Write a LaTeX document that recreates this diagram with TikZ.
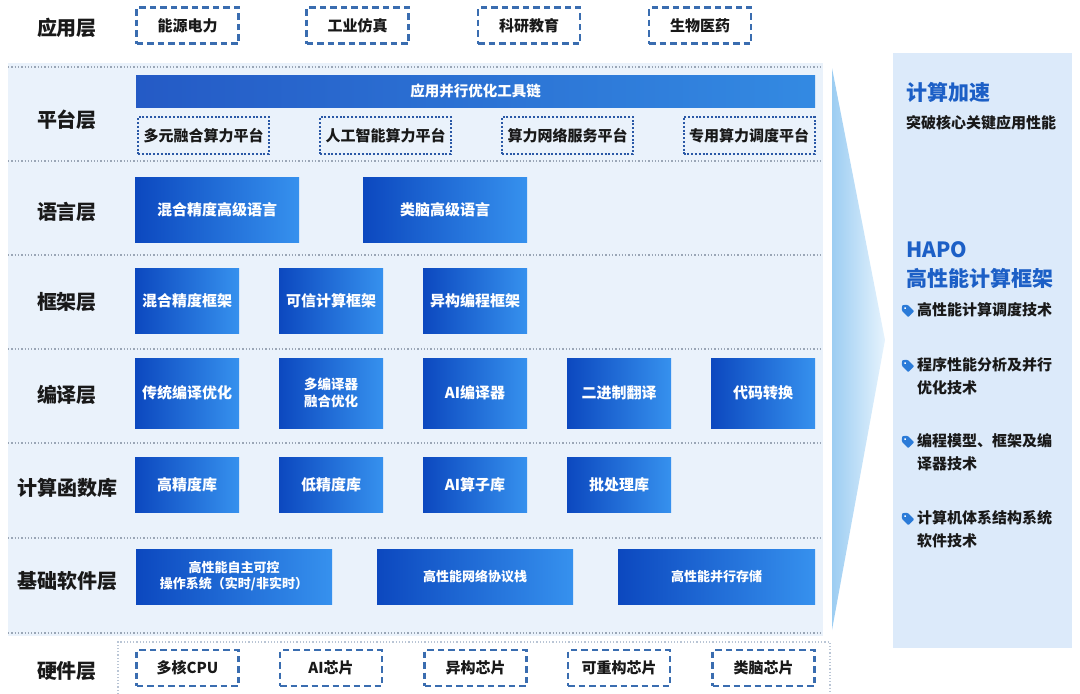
\documentclass[tikz,border=0pt]{standalone}
\usepackage{fontspec}
\setmainfont{Noto Sans CJK SC}
\definecolor{panelbg}{HTML}{EAF2FB}
\definecolor{rightbg}{HTML}{DCEAFA}
\definecolor{boxL}{HTML}{0C48BF}
\definecolor{boxR}{HTML}{3691EE}
\definecolor{sepC}{HTML}{9AA6B6}
\definecolor{dashC}{HTML}{3A6DB0}
\definecolor{dotC}{HTML}{2A58A6}
\definecolor{hwC}{HTML}{B9C5D5}
\definecolor{titleC}{HTML}{1C5FC6}
\definecolor{tagC}{HTML}{2B7BD8}
\definecolor{wedgeL}{HTML}{9CCDF2}
\definecolor{wedgeR}{HTML}{E6F3FD}
\begin{document}
\begin{tikzpicture}[x=1pt,y=-1pt,
  layerlbl/.style={font=\fontsize{20}{24}\selectfont\bfseries, text=black!90, inner sep=0pt},
  bluebox/.style={left color=boxL, right color=boxR, draw=none, text=white,
    font=\fontsize{15}{19}\selectfont\bfseries, inner sep=0pt, align=center},
  smallbox/.style={bluebox, font=\fontsize{13}{16}\selectfont\bfseries},
  dashbox/.style={draw=dashC, fill=white, line width=2.2pt, dash pattern=on 6.5pt off 4pt,
    font=\fontsize{15}{19}\selectfont\bfseries, text=black!90, inner sep=0pt,
    minimum width=102pt, minimum height=36pt},
  platbox/.style={draw=dotC, line width=2pt, dash pattern=on 2pt off 1.8pt,
    font=\fontsize{15}{19}\selectfont\bfseries, text=black!90, inner sep=0pt,
    minimum width=131pt, minimum height=37pt},
  sepline/.style={draw=sepC, line width=1.3pt, dash pattern=on 1.3pt off 2pt},
  ttl/.style={font=\fontsize{21}{25}\selectfont\bfseries, text=titleC, inner sep=0pt, anchor=west},
  subt/.style={font=\fontsize{15}{19}\selectfont\bfseries, text=black!90, inner sep=0pt, anchor=west},
  bul/.style={font=\fontsize{15}{23}\selectfont\bfseries, text=black!90, inner sep=0pt,
    anchor=north west, align=left},
  tag/.pic={\begin{scope}[rotate=-45]
            \fill[tagC, rounded corners=1pt] (-7,0) -- (-3,-4.2) -- (6,-4.2) -- (6,4.2) -- (-3,4.2) -- cycle;
            \fill[white] (-2.6,0) circle (1.1pt);
            \end{scope}}
]
\useasboundingbox (0,0) rectangle (1080,694);

% ---------- main panel background ----------
\fill[panelbg] (8,63) rectangle (823,636);
\foreach \yy in {67,161,255,349,443,538,633}
  \draw[sepline] (8,\yy) -- (822,\yy);

% ---------- wedge ----------
\shade[left color=wedgeL, right color=wedgeR] (832,68) -- (885,340) -- (832,630) -- cycle;

% ---------- right panel ----------
\fill[rightbg] (893,53) rectangle (1072,648);

% ---------- hardware outer dotted frame ----------
\draw[draw=hwC, line width=1.2pt, dash pattern=on 1.2pt off 2pt] (118,694) -- (118,642) -- (830,642) -- (830,694);

% ---------- layer labels ----------
\node[layerlbl] (lApp)  at (67,28)  {应用层};
\node[layerlbl] (lPlat) at (67,120) {平台层};
\node[layerlbl] (lLang) at (67,212) {语言层};
\node[layerlbl] (lFw)   at (67,302) {框架层};
\node[layerlbl] (lComp) at (67,395) {编译层};
\node[layerlbl] (lLib)  at (67,488) {计算函数库};
\node[layerlbl] (lBase) at (67,581) {基础软件层};
\node[layerlbl] (lHw)   at (67,671) {硬件层};

% ---------- application layer ----------
\node[dashbox] (a1) at (187.5,25.5) {能源电力};
\node[dashbox] (a2) at (357.5,25.5) {工业仿真};
\node[dashbox] (a3) at (529,25.5)   {科研教育};
\node[dashbox] (a4) at (700,25.5)   {生物医药};

% ---------- platform layer ----------
\node[bluebox, minimum width=679pt, minimum height=32pt, font=\fontsize{14.5}{18}\selectfont\bfseries,
      left color=boxL!90!white, right color=boxR!95!black] (bar) at (475.5,91) {应用并行优化工具链};
\node[platbox] (p1) at (203.5,135.5) {多元融合算力平台};
\node[platbox] (p2) at (385.5,135.5) {人工智能算力平台};
\node[platbox] (p3) at (567.5,135.5) {算力网络服务平台};
\node[platbox] (p4) at (749,135.5)   {专用算力调度平台};

% ---------- language layer ----------
\node[bluebox, minimum width=164pt, minimum height=65pt] (g1) at (217,209.5) {混合精度高级语言};
\node[bluebox, minimum width=164pt, minimum height=65pt] (g2) at (445,209.5) {类脑高级语言};

% ---------- framework layer ----------
\node[bluebox, minimum width=104pt, minimum height=65pt] (f1) at (187,300.5) {混合精度框架};
\node[bluebox, minimum width=104pt, minimum height=65pt] (f2) at (331,300.5) {可信计算框架};
\node[bluebox, minimum width=104pt, minimum height=65pt] (f3) at (475,300.5) {异构编程框架};

% ---------- compile layer ----------
\node[bluebox, minimum width=104pt, minimum height=70pt] (c1) at (187,393) {传统编译优化};
\node[bluebox, minimum width=104pt, minimum height=70pt, font=\fontsize{13.5}{16.5}\selectfont\bfseries] (c2) at (331,393) {多编译器\\融合优化};
\node[bluebox, minimum width=104pt, minimum height=70pt] (c3) at (475,393) {AI编译器};
\node[bluebox, minimum width=104pt, minimum height=70pt] (c4) at (619,393) {二进制翻译};
\node[bluebox, minimum width=104pt, minimum height=70pt] (c5) at (763,393) {代码转换};

% ---------- library layer ----------
\node[bluebox, minimum width=104pt, minimum height=55pt] (k1) at (187,484.5) {高精度库};
\node[bluebox, minimum width=104pt, minimum height=55pt] (k2) at (331,484.5) {低精度库};
\node[bluebox, minimum width=104pt, minimum height=55pt] (k3) at (475,484.5) {AI算子库};
\node[bluebox, minimum width=104pt, minimum height=55pt] (k4) at (619,484.5) {批处理库};

% ---------- base software layer ----------
\node[smallbox, minimum width=196pt, minimum height=55pt] (b1) at (234,576.5) {高性能自主可控\\操作系统（实时/非实时）};
\node[smallbox, minimum width=196pt, minimum height=55pt] (b2) at (475,576.5) {高性能网络协议栈};
\node[smallbox, minimum width=197pt, minimum height=55pt] (b3) at (716.5,576.5) {高性能并行存储};

% ---------- hardware layer ----------
\node[dashbox] (h1) at (187.5,668) {多核CPU};
\node[dashbox] (h2) at (331,668)   {AI芯片};
\node[dashbox] (h3) at (475.5,668) {异构芯片};
\node[dashbox] (h4) at (619,668)   {可重构芯片};
\node[dashbox] (h5) at (763.5,668) {类脑芯片};

% ---------- right panel texts ----------
\node[ttl]  (r1) at (906,92)  {计算加速};
\node[subt] (r2) at (906,123) {突破核心关键应用性能};
\node[ttl]  (r3) at (906,250) {HAPO};
\node[ttl]  (r4) at (906,278) {高性能计算框架};
\node[bul]  (t1) at (917,302) {高性能计算调度技术};
\node[bul]  (t2) at (917,357) {程序性能分析及并行\\优化技术};
\node[bul]  (t3) at (917,433) {编程模型、框架及编\\译器技术};
\node[bul]  (t4) at (917,510) {计算机体系结构系统\\软件技术};
\pic at (907,310) {tag};
\pic at (907,365) {tag};
\pic at (907,441) {tag};
\pic at (907,518) {tag};
\end{tikzpicture}
\end{document}
